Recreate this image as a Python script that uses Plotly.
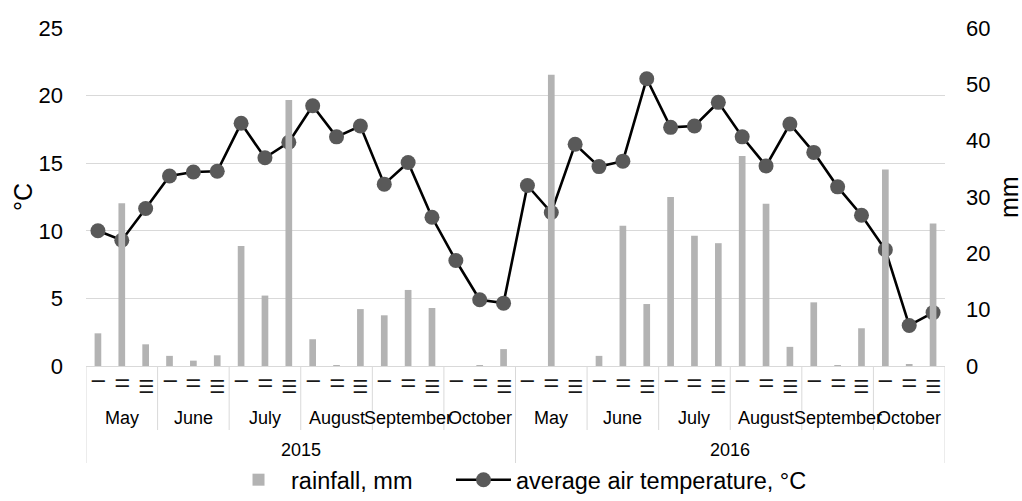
import plotly.graph_objects as go

# ---------------- data ----------------
years = ["2015", "2016"]
months = ["May", "June", "July", "August", "September", "October"]
decades = ["⚊", "⚌", "☰"]

temp_2015 = [10.0, 9.3, 11.65, 14.05, 14.35, 14.4, 17.95, 15.4, 16.55,
             19.25, 16.95, 17.75, 13.45, 15.05, 11.0, 7.8, 4.9, 4.65]
temp_2016 = [13.35, 11.35, 16.4, 14.75, 15.15, 21.25, 17.65, 17.75, 19.5,
             16.95, 14.8, 17.9, 15.8, 13.25, 11.15, 8.6, 3.0, 3.95]
rain_2015 = [5.8, 28.9, 3.85, 1.8, 0.95, 1.9, 21.3, 12.5, 47.2,
             4.75, 0.1, 10.1, 9.0, 13.5, 10.3, 0.0, 0.1, 3.0]
rain_2016 = [0.0, 51.7, 0.0, 1.8, 24.9, 11.0, 30.0, 23.1, 21.8,
             37.3, 28.8, 3.4, 11.3, 0.1, 6.7, 34.9, 0.2, 25.3]

temperature = temp_2015 + temp_2016
rainfall = rain_2015 + rain_2016
n = len(temperature)
xs = list(range(n))

FONT = "Liberation Sans, Arial, sans-serif"
GRID = "#d9d9d9"
decade_shift = [3.4, -2.2, -7.8]   # vertical offset (px) of each decade glyph

fig = go.Figure()
fig.add_trace(go.Bar(
    x=xs, y=rainfall, name="rainfall, mm", yaxis="y2", legend="legend",
    marker=dict(color="#b3b3b3", line=dict(width=0)),
))
fig.add_trace(go.Scatter(
    x=xs, y=temperature, name="average air temperature, °C", yaxis="y",
    legend="legend2", mode="lines+markers",
    line=dict(color="#000000", width=2.6),
    marker=dict(color="#595959", size=15, line=dict(width=0)),
))

annotations = []
shapes = []
# decade labels
for i in xs:
    annotations.append(dict(
        x=i, y=0, xref="x", yref="paper", yanchor="top", xanchor="center",
        text=decades[i % 3], showarrow=False, yshift=decade_shift[i % 3],
        font=dict(family="DejaVu Sans", size=18, color="#1a1a1a"),
    ))
# month labels
n_months = len(years) * len(months)
for m in range(n_months):
    annotations.append(dict(
        x=3 * m + 1, y=0, xref="x", yref="paper", yanchor="middle",
        xanchor="center", text=months[m % len(months)], showarrow=False,
        yshift=-52, font=dict(family=FONT, size=18, color="#000000"),
    ))
# year labels
per_year = 3 * len(months)
for k, yr in enumerate(years):
    annotations.append(dict(
        x=per_year * k + (per_year - 1) / 2, y=0, xref="x", yref="paper",
        yanchor="middle", xanchor="center", text=yr, showarrow=False,
        yshift=-84, font=dict(family=FONT, size=18, color="#000000"),
    ))
# axis titles
annotations.append(dict(
    x=0, y=0.5, xref="paper", yref="paper", xanchor="center",
    yanchor="middle", xshift=-63, text="°C", textangle=-90, showarrow=False,
    font=dict(family=FONT, size=25, color="#000000")))
annotations.append(dict(
    x=1, y=0.5, xref="paper", yref="paper", xanchor="center",
    yanchor="middle", xshift=64, text="mm", textangle=-90, showarrow=False,
    font=dict(family=FONT, size=25, color="#000000")))
# category dividers
for k in range(n_months + 1):
    long = (k % len(months) == 0)
    shapes.append(dict(
        type="line", xref="x", yref="paper", ysizemode="pixel", yanchor=0,
        x0=3 * k - 0.5, x1=3 * k - 0.5, y0=0, y1=-(97 if long else 64),
        line=dict(color=GRID, width=1),
    ))

legend_style = dict(orientation="h", xanchor="left", y=-0.337,
                    yanchor="middle", font=dict(size=23.5, color="#000000"),
                    bgcolor="rgba(0,0,0,0)", itemwidth=55)

fig.update_layout(
    template="none",
    width=1022, height=501,
    margin=dict(l=86, r=77, t=28, b=135, autoexpand=False),
    paper_bgcolor="white", plot_bgcolor="white",
    font=dict(family=FONT, color="#000000"),
    bargap=0.72,
    showlegend=True,
    legend=dict(x=0.163, **legend_style),
    legend2=dict(x=0.4249, **legend_style),
    xaxis=dict(range=[-0.5, n - 0.5], showticklabels=False, ticks="",
               showgrid=False, zeroline=False, showline=True,
               linecolor=GRID, linewidth=1, automargin=False),
    yaxis=dict(range=[0, 25], dtick=5, showgrid=True, gridcolor=GRID,
               gridwidth=1, zeroline=False, ticks="", showline=False,
               tickfont=dict(size=22, color="#000000"),
               ticklabelstandoff=22, automargin=False),
    yaxis2=dict(range=[0, 60], dtick=10, overlaying="y", side="right",
                showgrid=False, zeroline=False, ticks="", showline=False,
                tickfont=dict(size=22, color="#000000"),
                ticklabelstandoff=20, automargin=False),
    annotations=annotations,
    shapes=shapes,
)

fig.write_html("out.html")
